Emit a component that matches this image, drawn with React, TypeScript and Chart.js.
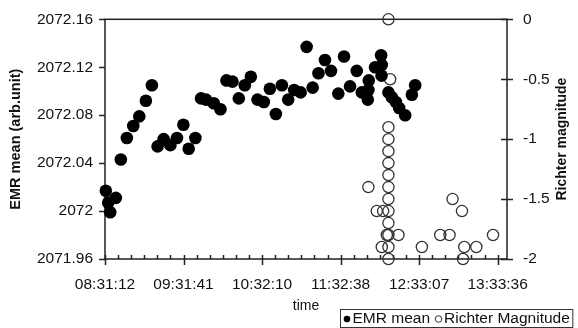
import React, { useEffect, useRef } from 'react';
import { Chart, registerables } from 'chart.js';

Chart.register(...registerables);

// ---- data ----
const xTickLabels = ['08:31:12', '09:31:41', '10:32:10', '11:32:38', '12:33:07', '13:33:36'];
const xMinLabel = '08:31:12';
const xMaxLabel = '13:40:48';
const minorStepSeconds = 604.8; // 0.007 day
const leftTicks = [2071.96, 2072, 2072.04, 2072.08, 2072.12, 2072.16];
const rightTicks = [-2, -1.5, -1, -0.5, 0];

const emrTimes = [
  '08:31:49', '08:33:40', '08:35:13', '08:39:32', '08:43:24', '08:48:02', '08:52:58', '08:57:36',
  '09:02:41', '09:07:19', '09:11:43', '09:16:21', '09:21:31', '09:26:37', '09:31:33', '09:35:39',
  '09:40:49', '09:45:09', '09:49:00', '09:54:57', '10:00:07', '10:04:45', '10:09:23', '10:14:15',
  '10:18:52', '10:23:30', '10:28:40', '10:33:32', '10:38:10', '10:42:48', '10:47:26', '10:52:18',
  '10:56:55', '11:01:52', '11:06:30', '11:11:08', '11:15:36', '11:20:37', '11:25:15', '11:30:53',
  '11:35:17', '11:39:55', '11:45:05', '11:48:57', '11:53:35', '11:54:03', '11:54:20', '11:59:13',
  '12:03:50', '12:04:23', '12:04:10', '12:09:29', '12:12:06', '12:15:11', '12:17:44', '12:22:22',
  '12:27:32', '12:30:05',
];
const emrValues = [
  2072.017, 2072.007, 2071.999, 2072.011, 2072.043, 2072.061, 2072.071, 2072.079,
  2072.092, 2072.105, 2072.054, 2072.060, 2072.055, 2072.061, 2072.072, 2072.052,
  2072.061, 2072.094, 2072.093, 2072.090, 2072.085, 2072.109, 2072.108, 2072.094,
  2072.105, 2072.112, 2072.093, 2072.091, 2072.102, 2072.081, 2072.105, 2072.093,
  2072.101, 2072.099, 2072.137, 2072.103, 2072.115, 2072.126, 2072.117, 2072.098,
  2072.129, 2072.104, 2072.117, 2072.099, 2072.093, 2072.101, 2072.109, 2072.120,
  2072.130, 2072.122, 2072.113, 2072.099, 2072.095, 2072.091, 2072.086, 2072.080,
  2072.097, 2072.105,
];

const richterTimes = [
  '11:54:02', '12:00:31', '12:04:23', '12:05:23', '12:08:14',
  '12:09:29', '12:10:47', '12:09:29', '12:09:29', '12:09:29', '12:09:29', '12:09:29', '12:09:29',
  '12:09:29', '12:09:29', '12:09:29', '12:09:29', '12:09:29', '12:09:29',
  '12:17:12', '12:35:15', '12:49:23', '12:56:33', '12:58:52', '13:06:08', '13:06:54', '13:07:54',
  '13:17:10', '13:30:03',
];
const richterValues = [
  -1.4, -1.6, -1.9, -1.6, -1.8,
  0, -0.5, -0.9, -1.0, -1.1, -1.2, -1.3, -1.4,
  -1.5, -1.6, -1.7, -1.8, -1.9, -2.0,
  -1.8, -1.9, -1.8, -1.8, -1.5, -1.6, -2.0, -1.9,
  -1.9, -1.8,
];

// ---- helpers ----
const toSec = (s: string) => {
  const [h, m, sec] = s.split(':').map(Number);
  return h * 3600 + m * 60 + sec;
};
const FONT = "'Liberation Sans', Arial, sans-serif";
const TEXT = '#111';
const LINE = '#222';

const decorPlugin = {
  id: 'decor',
  beforeDatasetsDraw(chart: any) {
    const { ctx, chartArea: a, scales } = chart;
    ctx.save();
    ctx.strokeStyle = LINE;
    ctx.lineWidth = 1.5;
    ctx.strokeRect(a.left, a.top, a.right - a.left, a.bottom - a.top);
    ctx.beginPath();
    const xs = scales.x;
    const n = Math.floor((xs.max - xs.min) / minorStepSeconds + 1e-6);
    for (let j = 0; j <= n; j++) {
      const px = Math.round(xs.getPixelForValue(xs.min + j * minorStepSeconds)) + 0.5;
      const major = j % 6 === 0;
      ctx.moveTo(px, a.bottom - 4);
      ctx.lineTo(px, a.bottom + (major ? 6 : 0));
    }
    const yl = scales.y;
    leftTicks.forEach((v) => {
      const py = Math.round(yl.getPixelForValue(v)) + 0.5;
      ctx.moveTo(a.left - 6, py);
      ctx.lineTo(a.left, py);
    });
    const yr = scales.y2;
    rightTicks.forEach((v) => {
      const py = Math.round(yr.getPixelForValue(v)) + 0.5;
      ctx.moveTo(a.right - 6, py);
      ctx.lineTo(a.right + 6, py);
    });
    ctx.stroke();
    ctx.restore();
  },
  afterDraw(chart: any) {
    const { ctx, chartArea: a } = chart;
    ctx.save();
    // right axis title (reads bottom to top)
    ctx.fillStyle = TEXT;
    ctx.font = `bold 14px ${FONT}`;
    ctx.textAlign = 'center';
    ctx.textBaseline = 'middle';
    ctx.translate(a.right + 55, (a.top + a.bottom) / 2);
    ctx.rotate(-Math.PI / 2);
    ctx.fillText('Richter magnitude', 0, 0);
    ctx.restore();

    // legend box
    ctx.save();
    ctx.font = `15.5px ${FONT}`;
    ctx.textBaseline = 'middle';
    ctx.textAlign = 'left';
    const labels = chart.data.datasets.map((d: any) => d.label);
    const left = 340.5;
    const top = 309.5;
    const h = 18;
    const cy = top + h / 2 + 0.5;
    let x = left + 3;
    const items: any[] = [];
    labels.forEach((lab: string, i: number) => {
      const cx = x + 3.5;
      const tx = cx + 5.5;
      const w = ctx.measureText(lab).width;
      items.push({ cx, tx, lab, i });
      x = tx + w + 5;
    });
    const right = x - 2;
    ctx.strokeStyle = '#333';
    ctx.lineWidth = 1;
    ctx.fillStyle = '#fff';
    ctx.fillRect(left, top, right - left, h);
    ctx.strokeRect(left, top, right - left, h);
    items.forEach((it) => {
      ctx.beginPath();
      ctx.arc(it.cx, cy, 3.3, 0, Math.PI * 2);
      if (it.i === 0) {
        ctx.fillStyle = '#000';
        ctx.fill();
      } else {
        ctx.strokeStyle = '#333';
        ctx.lineWidth = 1;
        ctx.stroke();
      }
      ctx.fillStyle = TEXT;
      ctx.fillText(it.lab, it.tx, cy);
    });
    ctx.restore();
  },
};

export default function App() {
  const ref = useRef<HTMLCanvasElement | null>(null);
  useEffect(() => {
    if (!ref.current) return;
    Chart.defaults.font.family = FONT;
    const tickFont = { size: 15.5, family: FONT };
    const chart = new Chart(ref.current, {
      type: 'scatter',
      data: {
        datasets: [
          {
            label: 'EMR mean',
            data: emrTimes.map((t, i) => ({ x: toSec(t), y: emrValues[i] })),
            yAxisID: 'y',
            pointRadius: 6.3,
            pointHoverRadius: 6.3,
            pointBackgroundColor: '#000',
            pointBorderColor: '#000',
            pointBorderWidth: 0,
            showLine: false,
            clip: false,
          } as any,
          {
            label: 'Richter Magnitude',
            data: richterTimes.map((t, i) => ({ x: toSec(t), y: richterValues[i] })),
            yAxisID: 'y2',
            pointRadius: 5.6,
            pointHoverRadius: 5.6,
            pointBackgroundColor: 'rgba(0,0,0,0)',
            pointBorderColor: '#333',
            pointBorderWidth: 1.3,
            showLine: false,
            clip: false,
          } as any,
        ],
      },
      options: {
        responsive: false,
        animation: false,
        layout: { padding: { top: 19, left: 0, right: 0, bottom: 0 } },
        plugins: { legend: { display: false }, tooltip: { enabled: false } },
        scales: {
          x: {
            type: 'linear',
            position: 'bottom',
            min: toSec(xMinLabel),
            max: toSec(xMaxLabel),
            afterBuildTicks: (s: any) => {
              s.ticks = xTickLabels.map((l) => ({ value: toSec(l) }));
            },
            afterFit: (s: any) => {
              s.height = 69;
            },
            ticks: {
              autoSkip: false,
              maxRotation: 0,
              padding: 9,
              color: TEXT,
              font: tickFont,
              callback: (_v: any, i: number) => xTickLabels[i],
            },
            grid: { display: true, drawOnChartArea: false, drawTicks: true, tickLength: 7, color: 'rgba(0,0,0,0)' },
            border: { display: false },
            title: { display: true, text: 'time', color: TEXT, font: { size: 14, family: FONT }, padding: { top: 0, bottom: 13.6 } },
          },
          y: {
            type: 'linear',
            position: 'left',
            min: 2071.96,
            max: 2072.16,
            afterBuildTicks: (s: any) => {
              s.ticks = leftTicks.map((v) => ({ value: v }));
            },
            afterFit: (s: any) => {
              s.width = 105;
            },
            ticks: {
              padding: 6,
              color: TEXT,
              font: tickFont,
              callback: (v: any) => String(Number(Number(v).toFixed(2))),
            },
            grid: { display: true, drawOnChartArea: false, drawTicks: true, tickLength: 6, color: 'rgba(0,0,0,0)' },
            border: { display: false },
            title: {
              display: true,
              text: 'EMR mean (arb.unit)',
              color: TEXT,
              font: { size: 14.5, weight: 'bold', family: FONT },
              padding: { top: 7.3, bottom: 0 },
            },
          },
          y2: {
            type: 'linear',
            position: 'right',
            min: -2,
            max: 0,
            afterBuildTicks: (s: any) => {
              s.ticks = rightTicks.map((v) => ({ value: v }));
            },
            afterFit: (s: any) => {
              s.width = 71;
            },
            ticks: {
              padding: 10,
              color: TEXT,
              font: tickFont,
              callback: (v: any) => String(Number(Number(v).toFixed(2))),
            },
            grid: { display: true, drawOnChartArea: false, drawTicks: true, tickLength: 6, color: 'rgba(0,0,0,0)' },
            border: { display: false },
          },
        },
      } as any,
      plugins: [decorPlugin],
    });
    return () => chart.destroy();
  }, []);

  return (
    <div style={{ position: 'absolute', left: 0, top: 0, width: 578, height: 328, background: '#fff' }}>
      <canvas ref={ref} width={578} height={328} style={{ display: 'block' }} />
    </div>
  );
}
